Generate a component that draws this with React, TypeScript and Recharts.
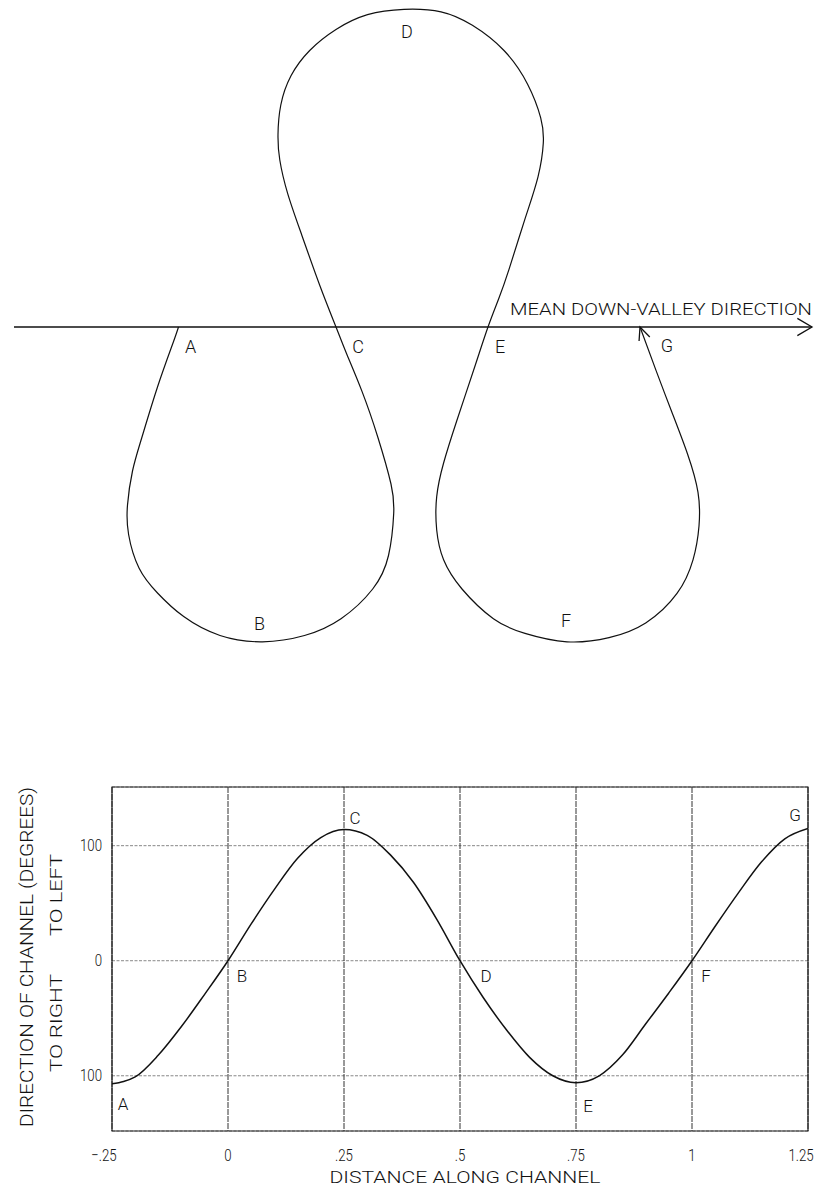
import React from 'react';
import {
  LineChart,
  Line,
  XAxis,
  YAxis,
  CartesianGrid,
  ReferenceArea,
  ReferenceDot,
} from 'recharts';

// ---------- Planform (top figure): downstream distance vs lateral offset ----------
const planX = [
  178.5, 173, 157.5, 141.7, 132.5, 127.5, 128.6, 139, 157.5, 183.7, 220, 262.5, 304.5, 341, 372.7,
  388.5, 393.7, 391, 378, 362, 346.5, 336, 320, 302, 287.7, 279.8, 278, 280.8, 291, 309.7, 336,
  367.5, 404, 441, 472.4, 504, 527.6, 540.7, 543.3, 538, 525, 509, 498.7, 488, 475, 456.7, 443.6,
  436.7, 436.7, 443.6, 462, 493.4, 525, 567, 609, 645.7, 677, 693, 699, 698, 687.7, 672, 656, 640,
];
const planY = [
  0, -16, -60, -111, -144, -178, -207.5, -241, -266, -289.6, -308.5, -314.8, -308.5, -291.7, -262,
  -228.5, -186.5, -157, -110.7, -64.4, -26.5, 0, 41, 91.3, 133.4, 167, 192.3, 222, 251.2, 276.5,
  297.5, 312.3, 317.7, 315.2, 301.7, 276.5, 242.8, 209.2, 184, 150.2, 108.1, 57.6, 28.2, 0, -39,
  -94, -136, -169.6, -203, -232.8, -262, -291.7, -306.4, -314.8, -310.6, -295.9, -266.4, -232.8,
  -199, -165.4, -127.5, -85.5, -43.4, 0,
];
const valleyAxisX = [14, 812];
const valleyAxisY = [0, 0];
const valleyTitle = 'MEAN DOWN-VALLEY DIRECTION';

const planLabelNames = ['A', 'B', 'C', 'D', 'E', 'F', 'G'];
const planLabelX = [178.5, 262.5, 336, 404, 488, 567, 640];
const planLabelY = [0, -314.8, 0, 317.7, 0, -314.8, 0];

// ---------- Direction vs distance (bottom figure) ----------
const distance = [
  -0.25, -0.225, -0.2, -0.15, -0.1, -0.05, 0, 0.05, 0.1, 0.15, 0.2, 0.25, 0.3, 0.35, 0.4, 0.45,
  0.5, 0.55, 0.6, 0.65, 0.7, 0.75, 0.8, 0.85, 0.9, 0.95, 1.0, 1.05, 1.1, 1.15, 1.2, 1.25,
];
const direction = [
  -107, -105, -101, -82, -57, -29, 0, 32, 62, 89, 107, 114, 109, 92, 68, 36, 0, -32, -60, -84,
  -100, -106, -100, -82, -55, -28, 0, 30, 59, 86, 106, 115,
];
const xTicks = [-0.25, 0, 0.25, 0.5, 0.75, 1, 1.25];
const xTickLabels = ['\u2212.25', '0', '.25', '.5', '.75', '1', '1.25'];
const yTicks = [-100, 0, 100];
const yTickLabels = ['100', '0', '100'];
const xAxisTitle = 'DISTANCE ALONG CHANNEL';
const yAxisTitle = 'DIRECTION OF CHANNEL (DEGREES)';
const yAxisSubLeft = 'TO LEFT';
const yAxisSubRight = 'TO RIGHT';
const curveLabelNames = ['A', 'B', 'C', 'D', 'E', 'F', 'G'];
const curveLabelX = [-0.25, 0, 0.25, 0.5, 0.75, 1, 1.25];
const curveLabelY = [-107, 0, 114, 0, -106, 0, 115];

// ---------- derived tables ----------
const planform = planX.map((x, i) => ({ x, y: planY[i] }));
const valleyAxis = valleyAxisX.map((x, i) => ({ x, y: valleyAxisY[i] }));
const profile = distance.map((s, i) => ({ s, deg: direction[i] }));

const FONT = "Roboto, 'DejaVu Sans', sans-serif";
const INK = '#111';

const arrowHead = (cx: number, cy: number, dx: number, dy: number, len: number, spread: number) => {
  const a = Math.atan2(dy, dx);
  const p1 = `${cx - len * Math.cos(a - spread)},${cy - len * Math.sin(a - spread)}`;
  const p2 = `${cx - len * Math.cos(a + spread)},${cy - len * Math.sin(a + spread)}`;
  return (
    <polyline points={`${p1} ${cx},${cy} ${p2}`} fill="none" stroke={INK} strokeWidth={1.3} />
  );
};

// offsets of letter labels from their anchor points (pixels)
const planLabelOffset: Record<string, [number, number]> = {
  A: [13, 20],
  B: [-2, -17],
  C: [23, 20],
  D: [4, 23],
  E: [13, 20],
  F: [0, -20],
  G: [28, 19],
};
const curveLabelOffset: Record<string, [number, number]> = {
  A: [12, 21],
  B: [15, 16],
  C: [12, -11],
  D: [27, 16],
  E: [13, 24],
  F: [15, 16],
  G: [-12, -12],
};

const letter = (name: string, off: [number, number], size: number) => (p: any) => {
  const vb = p.viewBox || {};
  return (
    <text
      x={vb.x + off[0]}
      y={vb.y + off[1]}
      textAnchor="middle"
      dominantBaseline="central"
      fontFamily={FONT}
      fontWeight={300}
      fontSize={size}
      fill={INK}
    >
      {name}
    </text>
  );
};

const narrowText = (x: number, y: number, anchor: string, content: string, central = false) => (
  <text
    transform={`translate(${x},${y}) scale(0.78,1)`}
    textAnchor={anchor}
    dominantBaseline={central ? 'central' : 'auto'}
    fontFamily={FONT}
    fontWeight={300}
    fontSize={17}
    fill={INK}
  >
    {content}
  </text>
);

const TOP_W = 821;
const TOP_H = 660;
const BOT_H = 527;

function Planform() {
  const last = planform.length - 1;
  const prev = planform[last - 1];
  const cur = planform[last];
  return (
    <LineChart width={TOP_W} height={TOP_H} margin={{ top: 0, right: 0, bottom: 0, left: 0 }}>
      <XAxis type="number" dataKey="x" domain={[0, 821]} hide allowDataOverflow />
      <YAxis type="number" dataKey="y" domain={[-333, 327]} hide allowDataOverflow />
      <Line
        data={valleyAxis}
        dataKey="y"
        type="linear"
        stroke={INK}
        strokeWidth={1.3}
        dot={false}
        activeDot={false}
        isAnimationActive={false}
      />
      <Line
        data={planform}
        dataKey="y"
        type="natural"
        stroke={INK}
        strokeWidth={1.2}
        dot={false}
        activeDot={false}
        isAnimationActive={false}
      />
      <ReferenceDot
        x={valleyAxisX[1]}
        y={valleyAxisY[1]}
        r={1}
        shape={(p: any) => arrowHead(p.cx, p.cy, 1, 0, 17, 0.53)}
        label={{
          content: (p: any) => (
            <text
              x={p.viewBox.x + 1}
              y={p.viewBox.y - 11}
              textAnchor="end"
              fontFamily={FONT}
              fontWeight={300}
              fontSize={17}
              textLength={302}
              lengthAdjust="spacingAndGlyphs"
              fill={INK}
            >
              {valleyTitle}
            </text>
          ),
        }}
      />
      <ReferenceDot
        x={cur.x}
        y={cur.y}
        r={1}
        shape={(p: any) => arrowHead(p.cx, p.cy, cur.x - prev.x, -(cur.y - prev.y), 14, 0.42)}
      />
      {planLabelNames.map((n, i) => (
        <ReferenceDot
          key={n}
          x={planLabelX[i]}
          y={planLabelY[i]}
          r={1}
          shape={() => <g />}
          label={{ content: letter(n, planLabelOffset[n], 18) }}
        />
      ))}
    </LineChart>
  );
}

function Profile() {
  return (
    <LineChart width={TOP_W} height={BOT_H} margin={{ top: 127, right: 13, bottom: 0, left: 0 }}>
      <CartesianGrid stroke="#888" strokeWidth={1} strokeDasharray="3 1.5" vertical={false} />
      <CartesianGrid stroke="#333" strokeWidth={1} strokeDasharray="6 1" horizontal={false} />
      <XAxis
        type="number"
        dataKey="s"
        domain={[-0.25, 1.25]}
        ticks={xTicks}
        height={56}
        axisLine={false}
        tickLine={false}
        interval={0}
        allowDataOverflow
        tick={(p: any) => {
          const i = xTicks.indexOf(p.payload.value);
          const shift = i === 0 ? -8 : i === xTicks.length - 1 ? -7 : 0;
          return narrowText(p.x + shift, 501, 'middle', xTickLabels[i]);
        }}
        label={{
          content: () => (
            <text
              x={465}
              y={522.5}
              textAnchor="middle"
              fontFamily={FONT}
              fontWeight={300}
              fontSize={16.5}
              textLength={271}
              lengthAdjust="spacingAndGlyphs"
              fill={INK}
            >
              {xAxisTitle}
            </text>
          ),
        }}
      />
      <YAxis
        type="number"
        dataKey="deg"
        domain={[-148, 151]}
        ticks={yTicks}
        width={112}
        axisLine={false}
        tickLine={false}
        interval={0}
        allowDataOverflow
        tick={(p: any) => {
          const i = yTicks.indexOf(p.payload.value);
          return narrowText(102, p.y, 'end', yTickLabels[i], true);
        }}
        label={{
          content: () => (
            <g fontFamily={FONT} fontWeight={300} fill={INK}>
              <text
                transform="translate(26,297) rotate(-90)"
                textAnchor="middle"
                dominantBaseline="central"
                fontSize={18}
                textLength={340}
                lengthAdjust="spacingAndGlyphs"
              >
                {yAxisTitle}
              </text>
              <text
                transform="translate(56,235) rotate(-90)"
                textAnchor="middle"
                dominantBaseline="central"
                fontSize={17}
                textLength={82}
                lengthAdjust="spacingAndGlyphs"
              >
                {yAxisSubLeft}
              </text>
              <text
                transform="translate(56,363) rotate(-90)"
                textAnchor="middle"
                dominantBaseline="central"
                fontSize={17}
                textLength={98}
                lengthAdjust="spacingAndGlyphs"
              >
                {yAxisSubRight}
              </text>
            </g>
          ),
        }}
      />
      <ReferenceArea
        x1={-0.25}
        x2={1.25}
        y1={-148}
        y2={151}
        fill="none"
        fillOpacity={0}
        stroke="#222"
        strokeWidth={1.2}
        ifOverflow="visible"
      />
      <Line
        data={profile}
        dataKey="deg"
        type="monotone"
        stroke={INK}
        strokeWidth={1.5}
        dot={false}
        activeDot={false}
        isAnimationActive={false}
      />
      {curveLabelNames.map((n, i) => (
        <ReferenceDot
          key={n}
          x={curveLabelX[i]}
          y={curveLabelY[i]}
          r={1}
          shape={() => <g />}
          ifOverflow="visible"
          label={{ content: letter(n, curveLabelOffset[n], 17) }}
        />
      ))}
    </LineChart>
  );
}

export default function App() {
  return (
    <div style={{ position: 'absolute', left: 0, top: 0, width: 821, height: 1187, background: '#fff' }}>
      <div style={{ position: 'absolute', left: 0, top: 0 }}>
        <Planform />
      </div>
      <div style={{ position: 'absolute', left: 0, top: TOP_H }}>
        <Profile />
      </div>
    </div>
  );
}
